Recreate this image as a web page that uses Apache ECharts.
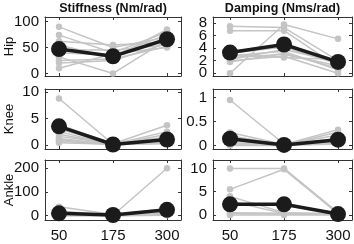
<!DOCTYPE html>
<html><head><meta charset="utf-8">
<script src="https://cdn.jsdelivr.net/npm/echarts@6/dist/echarts.min.js"></script>
<style>html,body{margin:0;padding:0;background:#fff}#c{width:354px;height:244px}</style>
</head><body><div id="c"></div>
<script>
const xValues = [50, 175, 300];
const columnTitles = ['Stiffness (Nm/rad)', 'Damping (Nms/rad)'];
const rowLabels = ['Hip', 'Knee', 'Ankle'];

// subjects: values at 50, 175, 300
const hipStiffness = [[90,50,70],[74,40,80],[62,55,60],[55,30,85],[45,45,55],[40,35,75],[32,0,65],[25,28,52],[20,25,58],[10,38,50]];
const hipStiffnessMean = [47, 33, 66];
const hipDamping = [[7.5,7.3,2.0],[6.8,6.8,1.0],[0,7.8,5.5],[3.2,4.2,1.5],[2.8,3.5,0.5],[2.5,3.0,1.2],[2.0,2.7,0.0],[3.0,2.5,2.2],[1.8,3.2,0.8],[2.2,3.8,1.8]];
const hipDampingMean = [3.3, 4.6, 1.8];
const kneeStiffness = [[8.8,0.1,1.0],[3.8,0.2,3.7],[3.0,0.1,2.5],[2.5,0.0,2.0],[2.0,0.1,1.5],[1.6,0.2,1.0],[1.2,0.0,0.5],[1.0,0.1,0.3],[0.7,0.0,0.8],[0.4,0.1,0.2]];
const kneeStiffnessMean = [3.5, 0.05, 1.0];
const kneeDamping = [[0.95,0.03,0.10],[0.27,0.02,0.33],[0.2,0.01,0.28],[0.15,0.02,0.22],[0.1,0.01,0.15],[0.06,0.0,0.08],[0.03,0.01,0.05],[0.0,0.0,0.03]];
const kneeDampingMean = [0.14, 0.01, 0.12];
const ankleStiffness = [[38,5,10],[20,2,200],[10,3,30],[5,1,15],[2,0,5],[0,0,2]];
const ankleStiffnessMean = [10, 3, 25];
const ankleDamping = [[10,10,0.5],[5.5,9.8,0.3],[4,0.5,0.2],[3,0.3,0.1],[0.5,0.4,0.3],[0.3,0.2,0.1],[0,0,0]];
const ankleDampingMean = [2.3, 2.3, 0.2];

const hipStiffnessTicks = [0, 50, 100];
const hipDampingTicks = [0, 2, 4, 6, 8];
const kneeStiffnessTicks = [0, 5, 10];
const kneeDampingTicks = [0, 0.5, 1];
const ankleStiffnessTicks = [0, 100, 200];
const ankleDampingTicks = [0, 5, 10];

const panels = [
  {row:0,col:0,subj:hipStiffness,mean:hipStiffnessMean,ticks:hipStiffnessTicks,min:-5,max:109},
  {row:0,col:1,subj:hipDamping,mean:hipDampingMean,ticks:hipDampingTicks,min:-0.45,max:9},
  {row:1,col:0,subj:kneeStiffness,mean:kneeStiffnessMean,ticks:kneeStiffnessTicks,min:-0.8,max:10.6},
  {row:1,col:1,subj:kneeDamping,mean:kneeDampingMean,ticks:kneeDampingTicks,min:-0.075,max:1.18},
  {row:2,col:0,subj:ankleStiffness,mean:ankleStiffnessMean,ticks:ankleStiffnessTicks,min:-18,max:235},
  {row:2,col:1,subj:ankleDamping,mean:ankleDampingMean,ticks:ankleDampingTicks,min:-1.07,max:11.8}
];

const FONT = "'Liberation Sans', Arial, Helvetica, sans-serif";
const colLeft = [45, 213], colWidth = [136, 139];
const rowTop = [17, 89, 160], rowHeight = [59, 60, 60];
const xRange = [[17.6, 332.4], [10.6, 332.4]];
const axisColor = '#333';

const grid = [], xAxis = [], yAxis = [], series = [];
panels.forEach((p, i) => {
  grid.push({left: colLeft[p.col], top: rowTop[p.row], width: colWidth[p.col], height: rowHeight[p.row]});
  const xr = xRange[p.col];
  const base = {type:'value', gridIndex:i, min:xr[0], max:xr[1], splitLine:{show:false},
    axisLine:{show:true, onZero:false, lineStyle:{color:axisColor, width:1}},
    axisTick:{show:true, inside:true, length:3, customValues:xValues, lineStyle:{color:axisColor}}};
  xAxis.push(Object.assign({}, base, {position:'bottom',
    axisLabel:{show:p.row===2, customValues:xValues, fontSize:15, color:'#111', fontFamily:FONT, margin:8}}));
  xAxis.push(Object.assign({}, base, {position:'top', axisLabel:{show:false}}));
  const ybase = {type:'value', gridIndex:i, min:p.min, max:p.max, splitLine:{show:false},
    axisLine:{show:true, onZero:false, lineStyle:{color:axisColor, width:1}},
    axisTick:{show:true, inside:true, length:3, customValues:p.ticks, lineStyle:{color:axisColor}}};
  const labelBase = {show:true, fontSize:15, hideOverlap:false, color:'#111', fontFamily:FONT, margin:6};
  const evenTicks = p.ticks.filter((v, k) => k % 2 === 0);
  const oddTicks = p.ticks.filter((v, k) => k % 2 === 1);
  const yLeft = yAxis.length;
  yAxis.push(Object.assign({}, ybase, {position:'left',
    axisLabel:Object.assign({}, labelBase, {customValues:evenTicks})}));
  yAxis.push(Object.assign({}, ybase, {position:'right', axisLabel:{show:false}}));
  yAxis.push(Object.assign({}, ybase, {position:'left', axisLine:{show:false, onZero:false}, axisTick:{show:false},
    axisLabel:Object.assign({}, labelBase, {customValues:oddTicks})}));
  p.subj.forEach(s => {
    series.push({type:'line', xAxisIndex:2*i, yAxisIndex:yLeft, data:xValues.map((x,k)=>[x,s[k]]),
      symbol:'circle', symbolSize:6.5, itemStyle:{color:'#c4c4c4'}, lineStyle:{color:'#c4c4c4', width:1.5},
      z:2, silent:true});
  });
  series.push({type:'line', xAxisIndex:2*i, yAxisIndex:yLeft, data:xValues.map((x,k)=>[x,p.mean[k]]),
    symbol:'circle', symbolSize:16, itemStyle:{color:'#1b1b1b'}, lineStyle:{color:'#1b1b1b', width:3.5},
    z:5, silent:true});
});

const graphic = [];
columnTitles.forEach((t, c) => {
  graphic.push({type:'text', x: colLeft[c] + colWidth[c]/2, y: 9,
    style:{text:t, font:"bold 12.5px " + FONT, fill:'#111', textAlign:'center', textVerticalAlign:'middle'}});
});
rowLabels.forEach((t, r) => {
  graphic.push({type:'text', x: 9, y: rowTop[r] + rowHeight[r]/2, rotation: Math.PI/2,
    style:{text:t, font:"13px " + FONT, fill:'#111', textAlign:'center', textVerticalAlign:'middle'}});
});

const chart = echarts.init(document.getElementById('c'), null, {renderer:'canvas'});
chart.setOption({animation:false, grid, xAxis, yAxis, series, graphic});
</script></body></html>
